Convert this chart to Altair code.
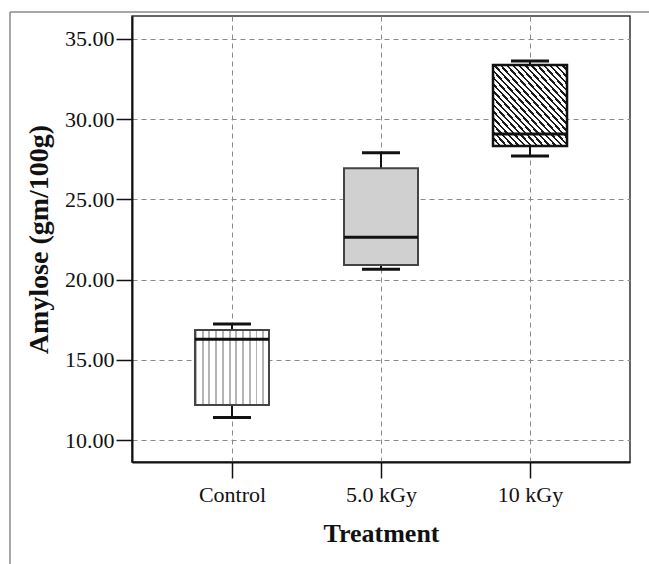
import altair as alt
import pandas as pd

treatments = ["Control", "5.0 kGy", "10 kGy"]
lower = [11.41, 20.64, 27.71]
q1 = [12.18, 20.91, 28.33]
median = [16.28, 22.64, 29.08]
q3 = [16.86, 26.94, 33.38]
upper = [17.23, 27.91, 33.63]
y_ticks = [10, 15, 20, 25, 30, 35]

df = pd.DataFrame({"t": treatments, "lo": lower, "q1": q1, "med": median,
                   "q3": q3, "hi": upper})

FONT = "Liberation Serif"


def stripes(n, c_line, c_bg, frac, x1, y1, x2, y2):
    stops = []
    for i in range(n):
        a = i / n
        b = (i + frac) / n
        c = (i + 1) / n
        stops += [alt.GradientStop(offset=a, color=c_line),
                  alt.GradientStop(offset=b, color=c_line),
                  alt.GradientStop(offset=b, color=c_bg),
                  alt.GradientStop(offset=c, color=c_bg)]
    return alt.LinearGradient(gradient="linear", stops=stops,
                              x1=x1, y1=y1, x2=x2, y2=y2)


fill_control = stripes(11, "#b4b4b4", "#ffffff", 0.28, 0, 0, 1, 0)
fill_5 = "#d0d0d0"
fill_10 = stripes(24, "#1a1a1a", "#ffffff", 0.38, 0, 1, 1, 0)

x_enc = alt.X("t:N", sort=treatments, title="Treatment",
              scale=alt.Scale(type="point", padding=0.671),
              axis=alt.Axis(labelAngle=0, grid=True, titlePadding=15,
                            titleFontSize=26, labelPadding=6))
y_scale = alt.Scale(domain=[8.63, 36.43], nice=False, zero=False)
y_axis = alt.Axis(values=y_ticks, format=".2f", grid=True, titlePadding=11,
                  titleFontSize=28, labelPadding=2)

base = alt.Chart(df)

whisk = base.mark_rule(color="#111", strokeWidth=2).encode(
    x=x_enc, y=alt.Y("lo:Q", scale=y_scale, axis=y_axis,
                     title="Amylose (gm/100g)"),
    y2="hi:Q")

boxes = []
for name, fill, sc, sw in [("Control", fill_control, "#444", 2),
                           ("5.0 kGy", fill_5, "#444", 2),
                           ("10 kGy", fill_10, "#111", 2.5)]:
    boxes.append(base.transform_filter(alt.datum.t == name).mark_bar(
        size=74, fill=fill, stroke=sc, strokeWidth=sw).encode(
        x=alt.X("t:N", sort=treatments), y="q1:Q", y2="q3:Q"))

med = base.mark_tick(size=74, thickness=3, color="#111", opacity=1).encode(
    x=alt.X("t:N", sort=treatments), y="med:Q")
cap_lo = base.mark_tick(size=38, thickness=3, color="#111", opacity=1).encode(
    x=alt.X("t:N", sort=treatments), y="lo:Q")
cap_hi = base.mark_tick(size=38, thickness=3, color="#111", opacity=1).encode(
    x=alt.X("t:N", sort=treatments), y="hi:Q")

frame_top = alt.Chart(df.head(1)).mark_rule(color="#8a8a8a", strokeWidth=1.5).encode(
    x=alt.value(-122), x2=alt.value(517), y=alt.value(-4))
frame_left = alt.Chart(df.head(1)).mark_rule(color="#8a8a8a", strokeWidth=1.5).encode(
    x=alt.value(-122), y=alt.value(-4), y2=alt.value(548))

chart = alt.layer(whisk, *boxes, med, cap_lo, cap_hi, frame_top, frame_left).properties(
    width=498, height=446,
    autosize=alt.AutoSizeParams(type="none"),
    padding={"left": 132, "top": 16, "right": 19, "bottom": 102},
    background="white",
).configure_view(stroke="#333", strokeWidth=1.5).configure_axis(
    labelFont=FONT, labelFontSize=22, labelColor="#111",
    titleFont=FONT, titleFontWeight="bold", titleColor="#111",
    tickColor="#111", tickSize=16, tickWidth=1.5,
    domainColor="#111", domainWidth=2,
    gridColor="#8a8a8a", gridDash=[5, 4], gridWidth=1,
)

chart.save("out.html", embed_options={"renderer": "svg", "actions": False})
